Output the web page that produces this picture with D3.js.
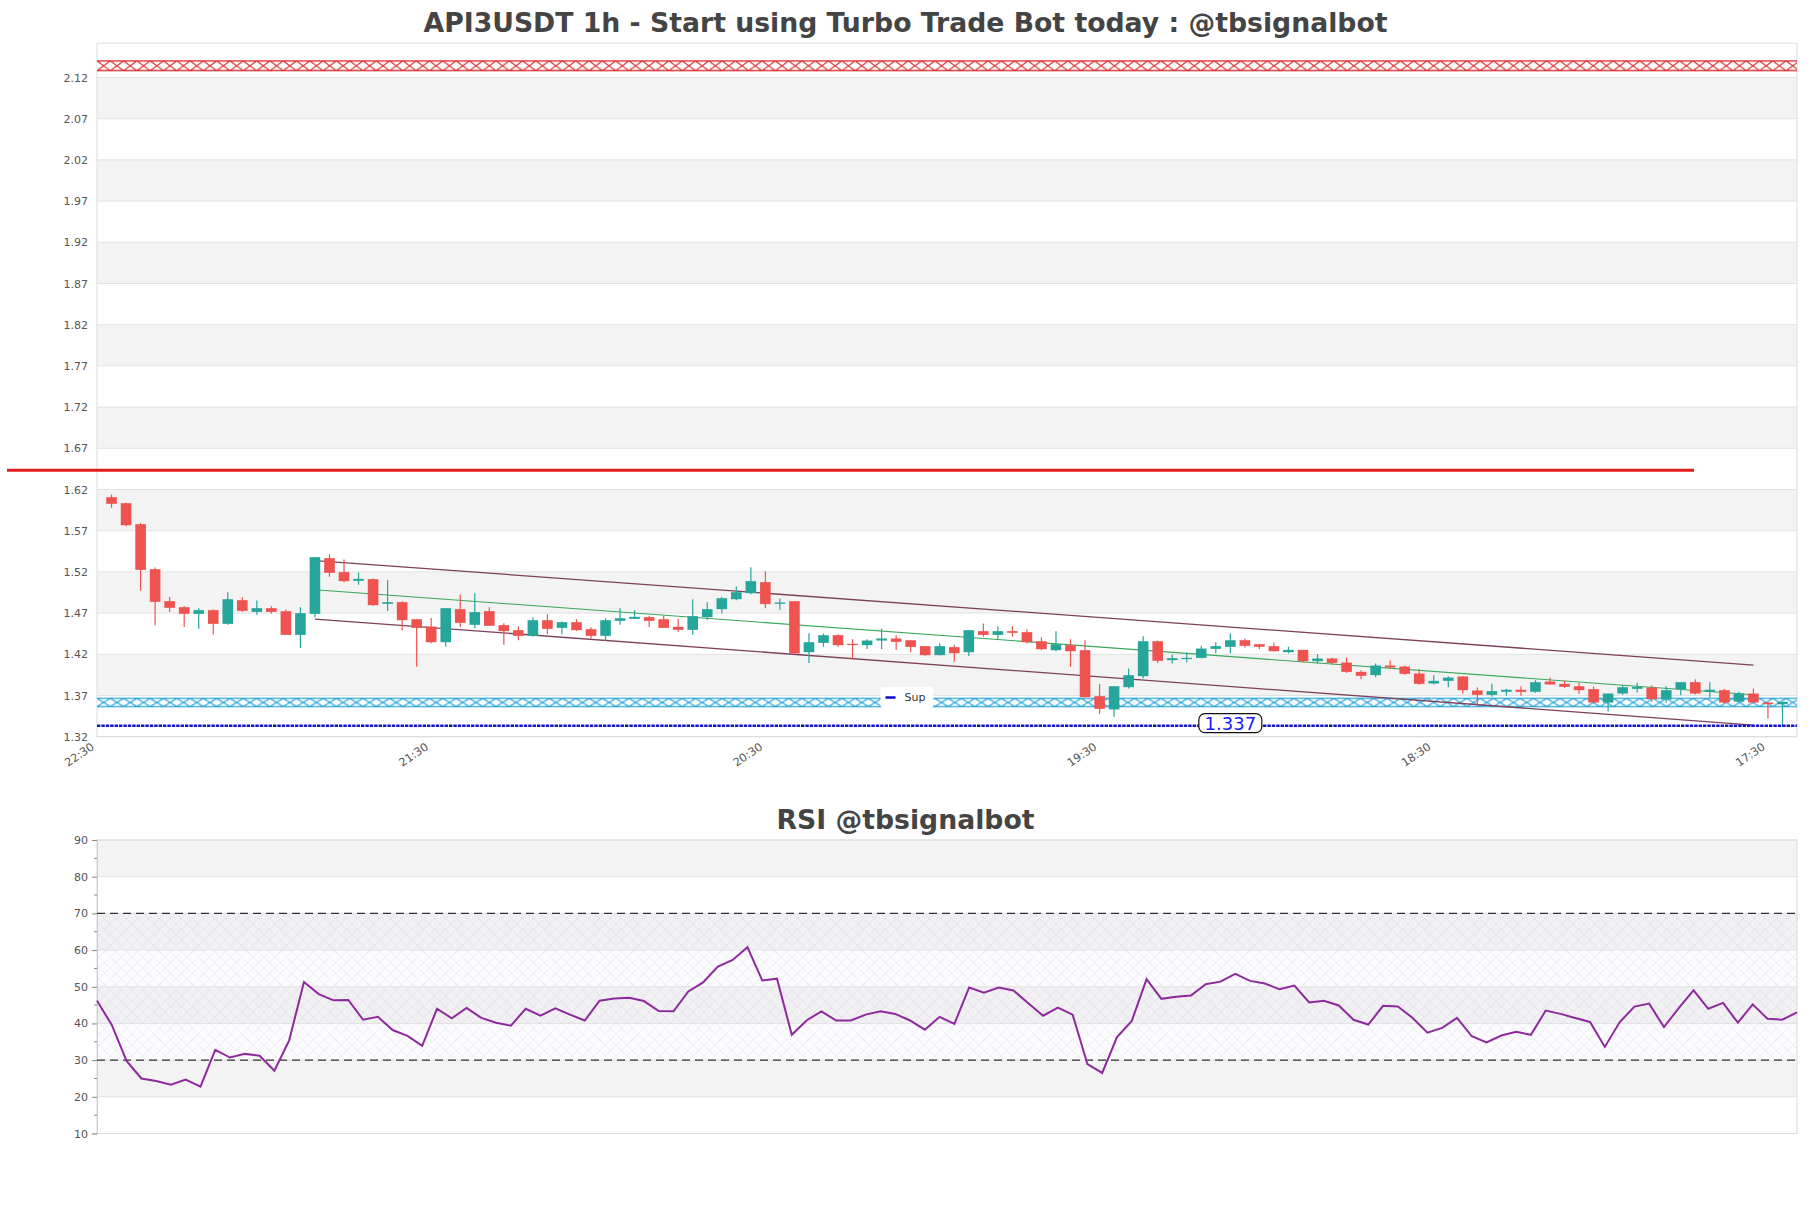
<!DOCTYPE html>
<html><head><meta charset="utf-8">
<script src="https://cdn.jsdelivr.net/npm/d3@7/dist/d3.min.js"></script>
<style>
body{margin:0;background:#fff;}
svg{display:block;}
text{font-family:"DejaVu Sans",sans-serif;}
</style>
</head><body>
<svg id="c" width="1811" height="1208"></svg>
<script>
// ---------------- DATA ----------------
const opens = [1.6143,1.6070,1.5815,1.5269,1.4881,1.4808,1.4727,1.4772,1.4606,1.4893,1.4751,1.4796,1.4759,1.4472,1.4727,1.5403,1.5233,1.5128,1.5148,1.4849,
1.4869,1.4662,1.4573,1.4383,1.4784,1.4594,1.4760,1.4590,1.4529,1.4460,1.4650,1.4557,1.4626,1.4541,1.4460,1.4642,1.4666,1.4687,1.4662,1.4569,
1.4533,1.4687,1.4784,1.4905,1.4978,1.5112,1.4849,1.4881,1.4262,1.4375,1.4468,1.4363,1.4347,1.4403,1.4428,1.4407,1.4335,1.4226,1.4323,1.4262,
1.4517,1.4472,1.4517,1.4505,1.4395,1.4286,1.4347,1.4286,1.3728,1.3567,1.3837,1.3971,1.4395,1.4165,1.4181,1.4193,1.4302,1.4327,1.4407,1.4359,
1.4335,1.4262,1.4290,1.4153,1.4185,1.4136,1.4023,1.3983,1.4100,1.4088,1.4003,1.3882,1.3914,1.3967,1.3797,1.3744,1.3781,1.3806,1.3781,1.3906,
1.3878,1.3849,1.3813,1.3651,1.3760,1.3817,1.3833,1.3688,1.3813,1.3898,1.3781,1.3801,1.3663,1.3760,1.3651,1.3631];
const highs = [1.6175,1.6075,1.5831,1.5289,1.4933,1.4820,1.4796,1.4784,1.4990,1.4929,1.4889,1.4820,1.4780,1.4808,1.5415,1.5451,1.5386,1.5229,1.5156,1.5136,
1.4881,1.4662,1.4678,1.4796,1.4962,1.4978,1.4808,1.4614,1.4578,1.4687,1.4723,1.4634,1.4662,1.4565,1.4674,1.4796,1.4772,1.4703,1.4707,1.4666,
1.4905,1.4869,1.4933,1.5059,1.5293,1.5245,1.4909,1.4881,1.4492,1.4488,1.4480,1.4420,1.4420,1.4549,1.4468,1.4407,1.4335,1.4371,1.4351,1.4529,
1.4610,1.4578,1.4578,1.4541,1.4444,1.4517,1.4420,1.4408,1.3874,1.3849,1.4064,1.4456,1.4404,1.4238,1.4262,1.4339,1.4383,1.4492,1.4428,1.4359,
1.4379,1.4327,1.4290,1.4238,1.4197,1.4197,1.4043,1.4124,1.4161,1.4100,1.4056,1.3983,1.3971,1.3967,1.3833,1.3878,1.3817,1.3850,1.3922,1.3954,
1.3918,1.3890,1.3845,1.3760,1.3861,1.3890,1.3861,1.3850,1.3898,1.3934,1.3898,1.3817,1.3781,1.3821,1.3655,1.3659];
const lows = [1.6014,1.5791,1.5006,1.4590,1.4751,1.4569,1.4545,1.4472,1.4594,1.4751,1.4715,1.4727,1.4472,1.4314,1.4686,1.5176,1.5111,1.5079,1.4824,1.4760,
1.4529,1.4084,1.4371,1.4327,1.4569,1.4553,1.4582,1.4351,1.4408,1.4448,1.4480,1.4480,1.4521,1.4428,1.4399,1.4594,1.4666,1.4569,1.4557,1.4509,
1.4472,1.4654,1.4731,1.4893,1.4966,1.4796,1.4776,1.4246,1.4132,1.4327,1.4327,1.4173,1.4302,1.4302,1.4290,1.4262,1.4217,1.4222,1.4145,1.4217,
1.4448,1.4420,1.4448,1.4367,1.4286,1.4274,1.4084,1.3716,1.3514,1.3478,1.3821,1.3946,1.4132,1.4124,1.4140,1.4189,1.4250,1.4250,1.4319,1.4302,
1.4266,1.4250,1.4136,1.4124,1.4112,1.4011,1.3934,1.3958,1.4060,1.3987,1.3866,1.3870,1.3837,1.3760,1.3619,1.3720,1.3732,1.3732,1.3769,1.3866,
1.3829,1.3756,1.3639,1.3542,1.3744,1.3773,1.3659,1.3647,1.3740,1.3748,1.3704,1.3639,1.3651,1.3639,1.3457,1.3368];
const closes = [1.6062,1.5803,1.5261,1.4873,1.4800,1.4727,1.4772,1.4606,1.4905,1.4764,1.4796,1.4751,1.4472,1.4735,1.5415,1.5225,1.5124,1.5152,1.4832,1.4869,
1.4650,1.4557,1.4383,1.4796,1.4618,1.4748,1.4582,1.4517,1.4460,1.4650,1.4545,1.4626,1.4529,1.4460,1.4650,1.4674,1.4691,1.4642,1.4557,1.4533,
1.4699,1.4784,1.4917,1.4990,1.5124,1.4845,1.4865,1.4246,1.4383,1.4468,1.4347,1.4351,1.4403,1.4428,1.4387,1.4326,1.4226,1.4335,1.4250,1.4529,
1.4472,1.4517,1.4497,1.4383,1.4298,1.4359,1.4274,1.3716,1.3574,1.3849,1.3983,1.4395,1.4157,1.4189,1.4193,1.4306,1.4335,1.4407,1.4339,1.4327,
1.4274,1.4290,1.4153,1.4185,1.4132,1.4023,1.3975,1.4100,1.4076,1.3999,1.3878,1.3914,1.3954,1.3801,1.3744,1.3789,1.3806,1.3781,1.3898,1.3870,
1.3841,1.3801,1.3651,1.3760,1.3837,1.3841,1.3692,1.3801,1.3898,1.3760,1.3806,1.3651,1.3760,1.3651,1.3631,1.3659];

const rsiValues = [46.2,39.6,29.8,25.0,24.3,23.3,24.7,22.8,32.8,30.7,31.7,31.2,27.1,35.4,51.3,48.0,46.3,46.4,41.0,41.8,
38.2,36.6,33.9,44.0,41.4,44.2,41.5,40.2,39.4,44.0,42.1,44.1,42.4,40.8,46.2,46.8,47.0,46.1,43.4,43.3,
48.7,51.2,55.5,57.3,60.8,51.7,52.2,36.9,40.8,43.3,40.8,40.8,42.4,43.3,42.6,40.8,38.3,41.8,39.9,49.8,
48.4,49.8,49.0,45.5,42.1,44.3,42.4,28.9,26.5,36.3,40.7,52.1,46.7,47.3,47.6,50.7,51.4,53.5,51.6,50.9,
49.3,50.3,45.7,46.2,44.9,41.0,39.7,44.8,44.6,41.5,37.5,38.8,41.5,36.5,34.8,36.7,37.7,36.9,43.5,42.6,
41.5,40.4,33.6,40.3,44.6,45.4,39.0,44.2,49.0,44.0,45.6,40.2,45.2,41.3,41.0,43.0];

const xTickLabels = ["22:30","21:30","20:30","19:30","18:30","17:30"];
const xTickIndex  = [-1, 22, 45, 68, 91, 114];
const priceTickLabels = ["1.32","1.37","1.42","1.47","1.52","1.57","1.62","1.67","1.72","1.77","1.82","1.87","1.92","1.97","2.02","2.07","2.12"];
const priceAxisMin = 1.32363, priceAxisMax = 2.1651, priceTickStep = 0.05;
const rsiTickLabels = ["10","20","30","40","50","60","70","80","90"];
const rsiAxis = [10, 90];
const rsiBounds = [30, 70];

const supportLevel = 1.337;
const supportLabelIndex = 77;
const resistanceLevel = 1.647;
const supportZone = [1.3593, 1.3710];
const resistanceZone = [2.1311, 2.1445];
const channelIdx = [14, 113];
const channelUpper = [1.5374, 1.4106];
const channelMid = [1.5020, 1.3745];
const channelLower = [1.4664, 1.3378];

const mainTitle = "API3USDT 1h - Start using Turbo Trade Bot today : @tbsignalbot";
const rsiTitle = "RSI @tbsignalbot";
const legendLabel = "Sup";

// ---------------- LAYOUT ----------------
const M = {l:97, r:1797, t:43.3, b:736.7};
const R = {l:97, r:1797, t:840, b:1133.5};
const upColor = "#26a69a", downColor = "#ef5350";
const bandGray = "#f3f3f3", gridColor = "#e2e2e2", borderColor = "#dcdcdc";

const svg = d3.select("#c");
const defs = svg.append("defs");

const n = opens.length;
const xC = d3.scaleLinear().domain([-1, n]).range([M.l, M.r]);
const yP = d3.scaleLinear().domain([priceAxisMin, priceAxisMax]).range([M.b, M.t]);
const xR = d3.scaleLinear().domain([0, rsiValues.length - 1]).range([R.l, R.r]);
const yR = d3.scaleLinear().domain(rsiAxis).range([R.b, R.t]);

// ---------- titles ----------
svg.append("text").attr("x", 905.5).attr("y", 32).attr("text-anchor","middle")
  .attr("font-size", 26.7).attr("font-weight","bold").attr("fill","#444").text(mainTitle);
svg.append("text").attr("x", 905.5).attr("y", 829).attr("text-anchor","middle")
  .attr("font-size", 26.7).attr("font-weight","bold").attr("fill","#444").text(rsiTitle);

// ---------- main: bands & grid ----------
const gMain = svg.append("g");
const priceTicks = priceTickLabels.map((t,i)=>priceAxisMin + i*priceTickStep);
const bandEdges = priceTicks.concat([priceAxisMax]);
for (let k=0;k<bandEdges.length-1;k++){
  if (k%2===1){
    gMain.append("rect").attr("x",M.l).attr("width",M.r-M.l)
      .attr("y",yP(bandEdges[k+1])).attr("height",yP(bandEdges[k])-yP(bandEdges[k+1]))
      .attr("fill",bandGray);
  }
}
const yAxisMain = d3.axisLeft(yP).tickValues(priceTicks).tickSize(0).tickPadding(9)
  .tickFormat((d,i)=>priceTickLabels[i]);
const gyA = gMain.append("g").attr("transform",`translate(${M.l},0)`).call(yAxisMain);
gyA.select(".domain").remove();
gyA.selectAll("text").attr("font-size",11).attr("fill","#555").attr("font-family","DejaVu Sans");
gMain.selectAll("line.grid").data(priceTicks).join("line").attr("class","grid")
  .attr("x1",M.l).attr("x2",M.r).attr("y1",d=>yP(d)).attr("y2",d=>yP(d))
  .attr("stroke",gridColor).attr("stroke-width",1);
gMain.append("rect").attr("x",M.l).attr("y",M.t).attr("width",M.r-M.l).attr("height",M.b-M.t)
  .attr("fill","none").attr("stroke",borderColor).attr("stroke-width",1);

// x axis
const xAxisMain = d3.axisBottom(xC).tickValues(xTickIndex).tickSize(0).tickPadding(0)
  .tickFormat((d,i)=>xTickLabels[i]);
const gxA = gMain.append("g").attr("transform",`translate(0,${M.b})`).call(xAxisMain);
gxA.select(".domain").remove();
gxA.selectAll("text").attr("font-size",11.3).attr("fill","#555").attr("font-family","DejaVu Sans")
  .attr("text-anchor","end").attr("dy",null).attr("y",0)
  .attr("transform","translate(-2.5,12) rotate(-34)");

// ---------- zones with patterns ----------
function zonePattern(id, zone, color){
  const y0 = yP(zone[1]), y1 = yP(zone[0]), h = y1 - y0, w = 13.3;
  const p = defs.append("pattern").attr("id",id).attr("patternUnits","userSpaceOnUse")
    .attr("x",M.l).attr("y",y0).attr("width",w).attr("height",h);
  p.append("rect").attr("width",w).attr("height",h).attr("fill","rgba(255,255,255,0.85)");
  p.append("path").attr("d",`M0,0.7H${w}M0,${h-0.7}H${w}M0,0.7L${w},${h-0.7}M${w},0.7L0,${h-0.7}`)
    .attr("stroke",color).attr("stroke-width",1.25).attr("fill","none");
  gMain.append("rect").attr("x",M.l).attr("y",y0).attr("width",M.r-M.l).attr("height",h)
    .attr("fill",`url(#${id})`);
}
zonePattern("zr", resistanceZone, "#dd2f2f");
zonePattern("zs", supportZone, "#26a4dc");

// ---------- channel lines ----------
function chan(vals, color, w){
  gMain.append("line").attr("x1",xC(channelIdx[0])).attr("x2",xC(channelIdx[1]))
    .attr("y1",yP(vals[0])).attr("y2",yP(vals[1])).attr("stroke",color).attr("stroke-width",w);
}
chan(channelUpper, "#7e3f5c", 1.3);
chan(channelLower, "#7e3f5c", 1.3);
chan(channelMid, "#3aa85a", 1.1);

// ---------- candles ----------
const bw = 10.6;
const candles = gMain.append("g");
for (let i=0;i<n;i++){
  const up = closes[i] >= opens[i];
  const col = up ? upColor : downColor;
  const x = xC(i);
  candles.append("line").attr("x1",x).attr("x2",x).attr("y1",yP(highs[i])).attr("y2",yP(lows[i]))
    .attr("stroke",col).attr("stroke-width",1.2);
  const yt = yP(Math.max(opens[i],closes[i])), yb = yP(Math.min(opens[i],closes[i]));
  candles.append("rect").attr("x",x-bw/2).attr("y",yt).attr("width",bw).attr("height",Math.max(1.2,yb-yt))
    .attr("fill",col);
}

// ---------- support line ----------
gMain.append("line").attr("x1",M.l).attr("x2",M.r).attr("y1",yP(supportLevel)).attr("y2",yP(supportLevel))
  .attr("stroke","#1414c8").attr("stroke-width",2.6).attr("stroke-dasharray","3.4,1");
const lx = xC(supportLabelIndex), ly = yP(supportLevel) - 2.5;
gMain.append("rect").attr("x",lx-31.5).attr("y",ly-9.5).attr("width",63).attr("height",19).attr("rx",6)
  .attr("fill","#fff").attr("stroke","#111").attr("stroke-width",1.2);
gMain.append("text").attr("x",lx).attr("y",ly).attr("dy","0.36em").attr("text-anchor","middle")
  .attr("font-size",18).attr("fill","#1a1aff").text(supportLevel.toFixed(3));

// ---------- resistance red line ----------
gMain.append("line").attr("x1",7).attr("x2",1694).attr("y1",yP(resistanceLevel)).attr("y2",yP(resistanceLevel))
  .attr("stroke","#e21b1b").attr("stroke-width",3);

// ---------- legend ----------
const lgx = 905.5, lgy = 697.5;
gMain.append("rect").attr("x",lgx-25).attr("y",lgy-10.5).attr("width",53).attr("height",21).attr("rx",3).attr("fill","#fff");
gMain.append("line").attr("x1",lgx-20).attr("x2",lgx-10).attr("y1",lgy).attr("y2",lgy)
  .attr("stroke","#0a0acc").attr("stroke-width",2.5);
gMain.append("text").attr("x",lgx-1).attr("y",lgy).attr("dy","0.35em").attr("font-size",11)
  .attr("fill","#333").text(legendLabel);

// ---------------- RSI ----------------
const gR = svg.append("g");
const rsiTicks = rsiTickLabels.map(Number);
for (let k=0;k<rsiTicks.length-1;k++){
  if (k%2===1){
    gR.append("rect").attr("x",R.l).attr("width",R.r-R.l)
      .attr("y",yR(rsiTicks[k+1])).attr("height",yR(rsiTicks[k])-yR(rsiTicks[k+1])).attr("fill",bandGray);
  }
}
// hatch between bounds
const hp = defs.append("pattern").attr("id","hatch").attr("patternUnits","userSpaceOnUse")
  .attr("width",11).attr("height",11);
hp.append("rect").attr("width",11).attr("height",11).attr("fill","rgba(225,215,235,0.10)");
hp.append("path").attr("d","M0,0L11,11M11,0L0,11").attr("stroke","rgba(160,145,180,0.25)").attr("stroke-width",0.55);
gR.append("rect").attr("x",R.l).attr("width",R.r-R.l).attr("y",yR(rsiBounds[1]))
  .attr("height",yR(rsiBounds[0])-yR(rsiBounds[1])).attr("fill","url(#hatch)");

gR.selectAll("line.grid").data(rsiTicks).join("line").attr("class","grid")
  .attr("x1",R.l).attr("x2",R.r).attr("y1",d=>yR(d)).attr("y2",d=>yR(d))
  .attr("stroke",gridColor).attr("stroke-width",1);
gR.append("rect").attr("x",R.l).attr("y",R.t).attr("width",R.r-R.l).attr("height",R.b-R.t)
  .attr("fill","none").attr("stroke",borderColor).attr("stroke-width",1);

const yAxisR = d3.axisLeft(yR).tickValues(rsiTicks).tickSize(5).tickPadding(4)
  .tickFormat((d,i)=>rsiTickLabels[i]);
const gyR = gR.append("g").attr("transform",`translate(${R.l},0)`).call(yAxisR);
gyR.select(".domain").attr("stroke","#ccc");
gyR.selectAll(".tick line").attr("stroke","#888");
gyR.selectAll("text").attr("font-size",11).attr("fill","#555").attr("font-family","DejaVu Sans");
const minor = d3.range(rsiAxis[0]+5, rsiAxis[1], 10);
gR.selectAll("line.minor").data(minor).join("line").attr("class","minor")
  .attr("x1",R.l-3).attr("x2",R.l).attr("y1",d=>yR(d)).attr("y2",d=>yR(d)).attr("stroke","#888");

// bounds dashed
rsiBounds.forEach(v=>{
  gR.append("line").attr("x1",R.l).attr("x2",R.r).attr("y1",yR(v)).attr("y2",yR(v))
    .attr("stroke","#333").attr("stroke-width",1.2).attr("stroke-dasharray","8,5");
});

// RSI line
gR.append("path").datum(rsiValues)
  .attr("d", d3.line().x((d,i)=>xR(i)).y(d=>yR(d)))
  .attr("fill","none").attr("stroke","#8e2a9e").attr("stroke-width",2);
</script>
</body></html>
